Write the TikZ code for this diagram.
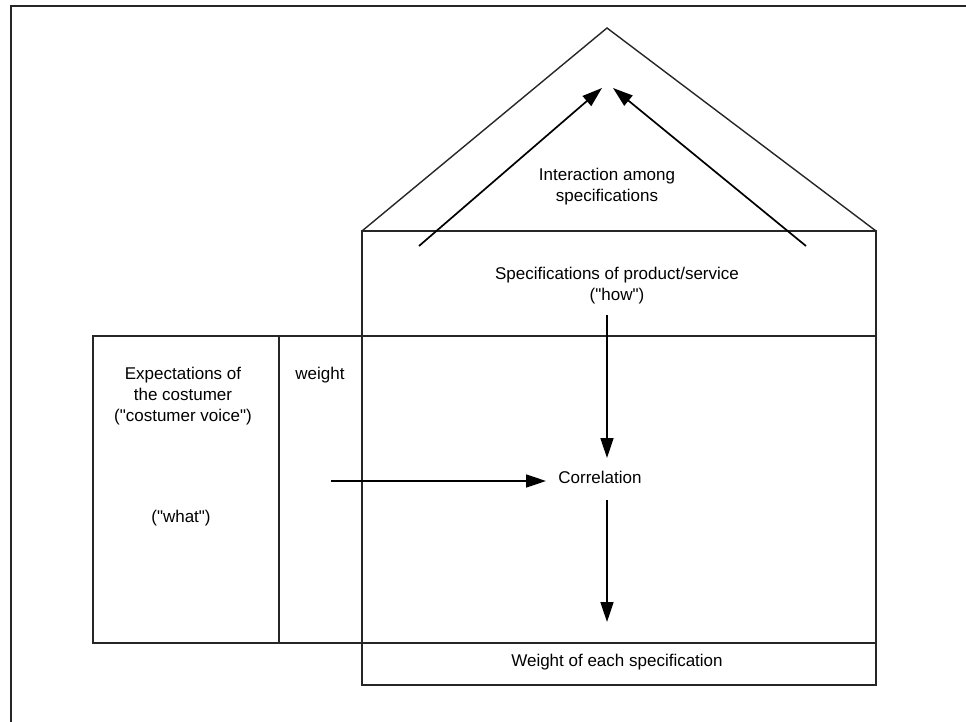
\documentclass[tikz,border=0pt]{standalone}
\usepackage{fontspec}
\setmainfont{Liberation Sans}[Ligatures=TeXOff]
\usetikzlibrary{arrows.meta}
\begin{document}
\begin{tikzpicture}[x=1pt,y=-1pt,
  box/.style={draw=black!85, line width=1.4pt},
  arr/.style={draw=black, line width=1.7pt, -{Triangle[length=20pt,width=13pt]}},
  lbl/.style={font=\fontsize{17}{21}\selectfont, align=center, inner sep=0pt},
  frame/.style={draw=black!85, line width=2.2pt}]
\useasboundingbox (0,0) rectangle (966,722);
\draw[frame] (11,722) -- (11,6) -- (966,6);
% roof
\coordinate (rl) at (362,231);
\coordinate (rr) at (876,231);
\coordinate (apex) at (607,28);
\draw[box] (rl) -- (apex) -- (rr);
% house body
\coordinate (hb) at (876,685);
\draw[box] (rl) rectangle (hb);
\coordinate (h1l) at (362,336); \coordinate (h1r) at (876,336);
\coordinate (h2l) at (362,643); \coordinate (h2r) at (876,643);
\draw[box] (h1l) -- (h1r);
\draw[box] (h2l) -- (h2r);
% left box
\coordinate (lbtl) at (93,336);
\draw[box] (lbtl) rectangle (h2l);
\coordinate (wt) at (279,336); \coordinate (wb) at (279,643);
\draw[box] (wt) -- (wb);
% texts
\node[lbl] (inter) at (607,187) {Interaction among\\specifications};
\node[lbl] (spec) at (617,286) {Specifications of product/service\\("how")};
\node[lbl] (exp) at (183,396) {Expectations of\\the costumer\\("costumer voice")};
\node[lbl] (what) at (181,518) {("what")};
\node[lbl] (weight) at (320,375) {weight};
\node[lbl] (corr) at (600,477) {Correlation};
\node[lbl] (wes) at (617,662) {Weight of each specification};
% arrows
\coordinate (a1s) at (419,246); \coordinate (a1e) at (602,88);
\coordinate (a2s) at (806,246); \coordinate (a2e) at (613,88);
\draw[arr] (a1s) -- (a1e);
\draw[arr] (a2s) -- (a2e);
\coordinate (vs) at (607,315); \coordinate (ve) at (607,458);
\draw[arr] (vs) -- (ve);
\coordinate (hs) at (331,481); \coordinate (he) at (546,481);
\draw[arr] (hs) -- (he);
\coordinate (ds) at (607,500); \coordinate (de) at (607,622);
\draw[arr] (ds) -- (de);
\end{tikzpicture}
\end{document}
